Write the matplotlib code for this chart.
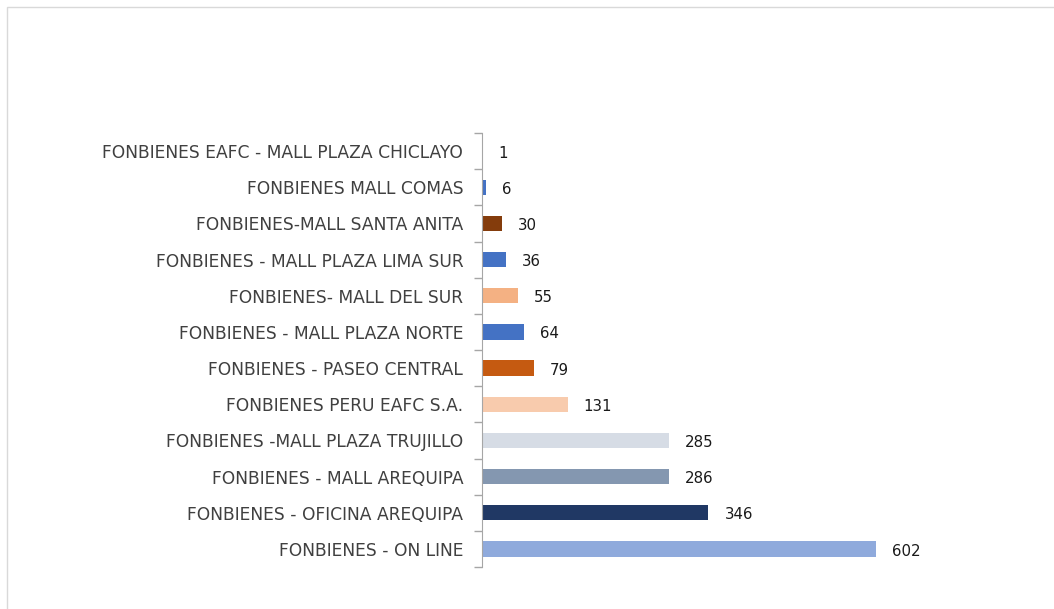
import matplotlib.pyplot as plt
from matplotlib.patches import Rectangle

# categories from top to bottom
labels = ['FONBIENES EAFC - MALL PLAZA CHICLAYO', 'FONBIENES MALL COMAS',
          'FONBIENES-MALL SANTA ANITA', 'FONBIENES - MALL PLAZA LIMA SUR',
          'FONBIENES- MALL DEL SUR', 'FONBIENES - MALL PLAZA NORTE',
          'FONBIENES - PASEO CENTRAL', 'FONBIENES PERU EAFC S.A.',
          'FONBIENES -MALL PLAZA TRUJILLO', 'FONBIENES - MALL AREQUIPA',
          'FONBIENES - OFICINA AREQUIPA', 'FONBIENES - ON LINE']
values = [1, 6, 30, 36, 55, 64, 79, 131, 285, 286, 346, 602]
colors = ['#A9BCDD', '#4472C4', '#843C0C', '#4472C4', '#F4B183', '#4472C4',
          '#C55A11', '#F8CBAD', '#D6DCE5', '#8497B0', '#203864', '#8FAADC']

plt.rcParams['font.family'] = ['DejaVu Sans']

W, H = 1054, 609
fig = plt.figure(figsize=(W / 100, H / 100), dpi=100)
fig.patches.append(Rectangle((7 / W, -0.1), 1.2, (H - 7) / H + 0.1,
                             transform=fig.transFigure, fill=False,
                             edgecolor='#D9D9D9', linewidth=1))

xmax = 700
x0, x1 = 482, 482 + xmax * 394 / 602
y_top, y_bot = 133, 567
ax = fig.add_axes([x0 / W, 1 - y_bot / H, (x1 - x0) / W, (y_bot - y_top) / H])

pos = list(range(len(labels)))[::-1]
ax.barh(pos, values, height=0.42, color=colors)
for p, v in zip(pos, values):
    ax.annotate(str(v), (v, p), xytext=(11.5, -1.5), textcoords='offset points',
                va='center', ha='left', fontsize=10.8, color='#1a1a1a')

ax.set_xlim(0, xmax)
ax.set_ylim(-0.5, len(labels) - 0.5)
ax.set_yticks(pos)
ax.set_yticklabels(labels, fontsize=12.3, color='#404040')
ax.set_yticks([i - 0.5 for i in range(len(labels) + 1)], minor=True)
ax.tick_params(axis='y', which='major', length=0, pad=13.5)
ax.tick_params(axis='y', which='minor', length=6, color='#A6A6A6', width=1)
ax.set_xticks([])
for s in ['top', 'right', 'bottom']:
    ax.spines[s].set_visible(False)
ax.spines['left'].set_color('#A6A6A6')

fig.savefig('out.png', dpi=100)
